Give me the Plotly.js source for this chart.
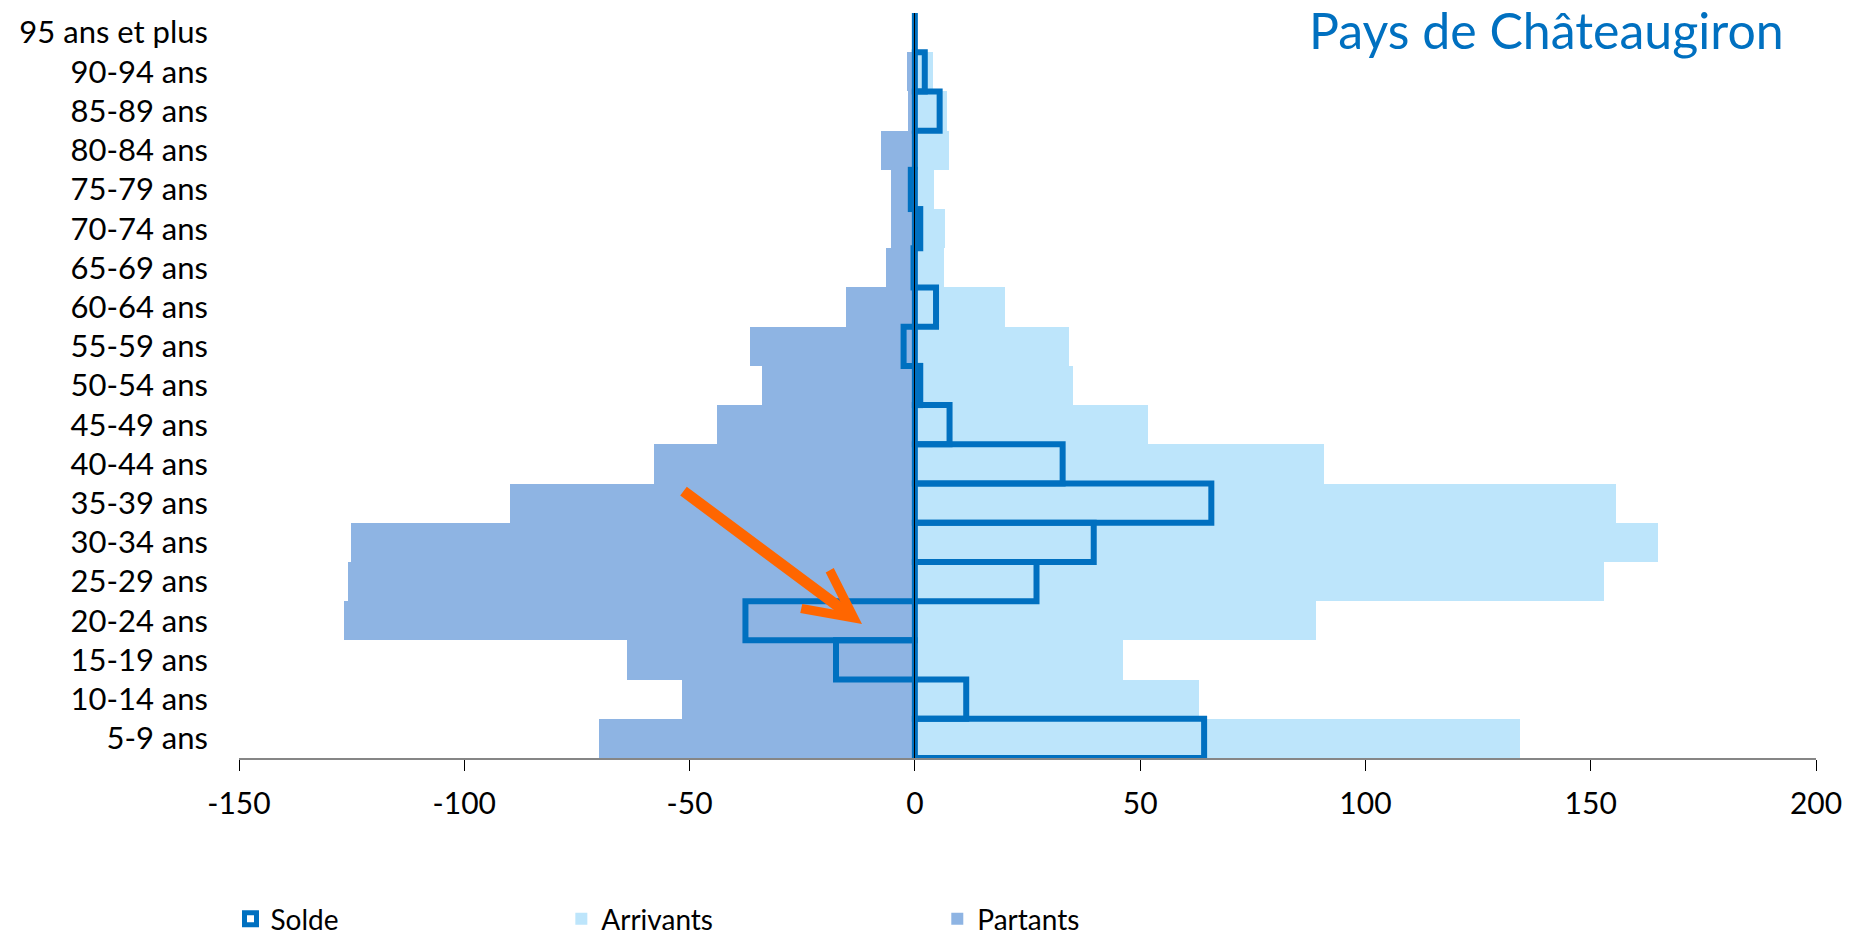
<!DOCTYPE html>
<html>
<head>
<meta charset="utf-8">
<script src="https://cdn.plot.ly/plotly-3.0.1.min.js"></script>
<style>
  html, body { margin: 0; padding: 0; background: #fff; overflow: hidden; width: 1856px; height: 933px; }
  #chart { width: 1856px; height: 960px; }
</style>
</head>
<body>
<div id="chart"></div>
<script>
// Age groups (bottom to top)
const categories = ['5-9 ans','10-14 ans','15-19 ans','20-24 ans','25-29 ans','30-34 ans','35-39 ans','40-44 ans','45-49 ans','50-54 ans','55-59 ans','60-64 ans','65-69 ans','70-74 ans','75-79 ans','80-84 ans','85-89 ans','90-94 ans','95 ans et plus'];
const arrivants = [134.3, 63.1, 46.3, 89.1, 153.0, 164.9, 155.6, 90.7, 51.8, 35.2, 34.1, 20.1, 6.4, 6.6, 4.2, 7.5, 7.1, 4.0, 0];
const partants  = [-70.1, -51.7, -63.9, -126.6, -125.9, -125.2, -89.8, -57.9, -44.0, -34.0, -36.7, -15.3, -6.5, -5.4, -5.2, -7.6, -1.6, -1.7, 0];
const solde     = [64.2, 11.4, -17.5, -37.6, 27.0, 39.7, 65.8, 32.8, 7.7, 1.2, -2.5, 4.7, -0.3, 1.2, -0.9, 0, 5.5, 2.2, 0];
const xTicks = [-150, -100, -50, 0, 50, 100, 150, 200];
const titleText = 'Pays de Châteaugiron';

const FONT = 'Lato, "Open Sans", sans-serif';
const FIG_H = 960;

const traces = [
  {
    type: 'bar', orientation: 'h', name: 'Partants',
    x: partants, y: categories,
    marker: { color: '#8EB4E3', line: { width: 0 } },
    legend: 'legend3'
  },
  {
    type: 'bar', orientation: 'h', name: 'Arrivants',
    x: arrivants, y: categories,
    marker: { color: '#BDE5FB', line: { width: 0 } },
    legend: 'legend2'
  },
  {
    type: 'bar', orientation: 'h', name: 'Solde',
    x: solde, y: categories,
    marker: { color: 'rgba(0,0,0,0)', line: { color: '#0070C0', width: 6 } },
    legend: 'legend'
  }
];

const legendCommon = {
  orientation: 'h', yanchor: 'middle', xanchor: 'left',
  font: { family: FONT, size: 28, color: '#000' },
  bgcolor: 'rgba(0,0,0,0)', borderwidth: 0, itemclick: false
};
const legY = (758 - 919) / 745;

const layout = {
  width: 1856, height: FIG_H,
  paper_bgcolor: '#fff', plot_bgcolor: '#fff',
  margin: { l: 238.5, r: 40, t: 13, b: FIG_H - 758, autoexpand: false },
  barmode: 'overlay', bargap: 0,
  showlegend: true,
  font: { family: FONT, color: '#000' },
  xaxis: {
    range: [-150, 200],
    tickvals: xTicks,
    ticktext: xTicks.map(String),
    showgrid: false,
    zeroline: true, zerolinecolor: '#000', zerolinewidth: 1,
    zerolinelayer: 'above traces',
    showline: true, linecolor: '#868686', linewidth: 2,
    ticks: 'outside', ticklen: 11, tickcolor: '#000', tickwidth: 1,
    tickfont: { family: FONT, size: 30, color: '#000' },
    ticklabelstandoff: 7,
    fixedrange: true
  },
  yaxis: {
    type: 'category',
    categoryorder: 'array', categoryarray: categories,
    range: [-0.5, categories.length - 0.5],
    showgrid: false, zeroline: false, showline: false,
    ticks: '',
    tickfont: { family: FONT, size: 31, color: '#000' },
    ticklabelstandoff: 30,
    fixedrange: true
  },
  legend:  Object.assign({}, legendCommon, { x: -0.0054, y: legY }),
  legend2: Object.assign({}, legendCommon, { x: 0.2044, y: legY }),
  legend3: Object.assign({}, legendCommon, { x: 0.4428, y: legY }),
  annotations: [
    {
      text: titleText,
      font: { family: FONT, size: 50, color: '#0070C0' },
      xref: 'paper', yref: 'paper',
      x: (1786 - 238.5) / 1577.5, xanchor: 'right',
      y: (758 - 30) / 745, yanchor: 'middle',
      showarrow: false
    },
    {
      xref: 'paper', yref: 'paper',
      x: (861.7 - 238.5) / 1577.5, y: (758 - 624) / 745,
      axref: 'pixel', ayref: 'pixel',
      ax: -180, ay: -134,
      showarrow: true, text: '',
      arrowcolor: '#FF6600', arrowwidth: 11, arrowhead: 5, arrowsize: 0.85,
      standoff: 0
    }
  ]
};

Plotly.newPlot('chart', traces, layout, { staticPlot: true, displayModeBar: false });
</script>
</body>
</html>
